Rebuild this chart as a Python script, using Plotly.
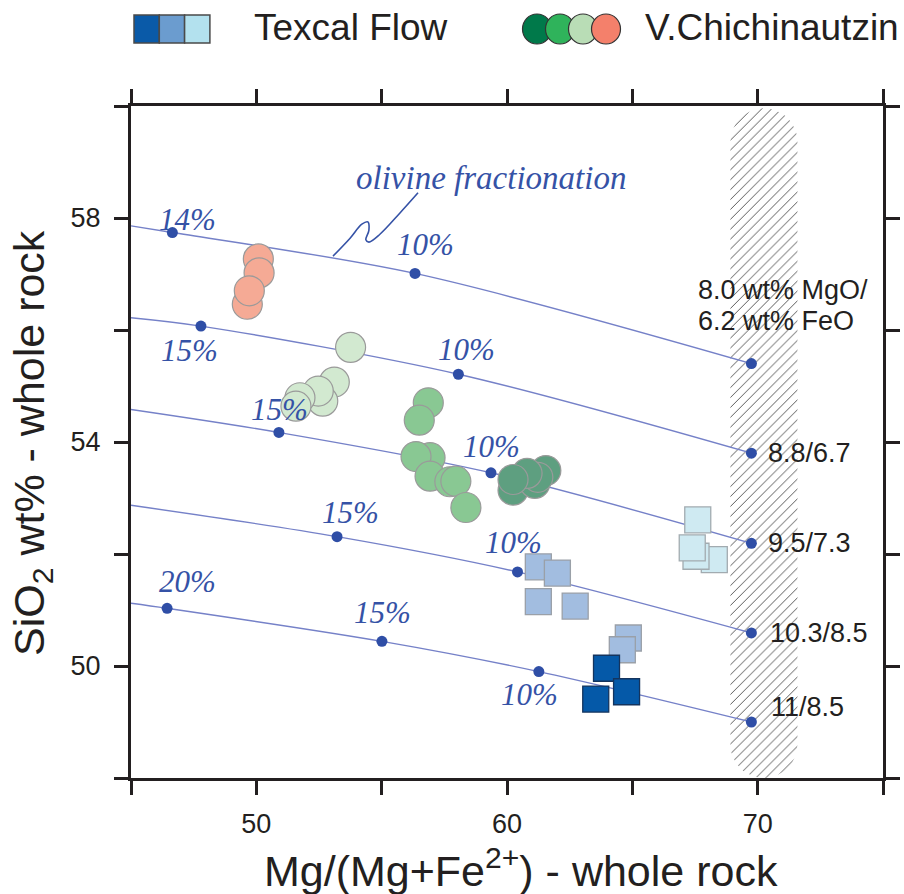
import numpy as np
import plotly.graph_objects as go

# ---------------- data ----------------
# Olivine fractionation paths (Mg# vs SiO2), starting melt compositions at Mg# ~69.75
path_labels = ["8.0 wt% MgO/6.2 wt% FeO", "8.8/6.7", "9.5/7.3", "10.3/8.5", "11/8.5"]
path_x = [
    [45.0, 46.65, 56.33, 69.75],
    [45.0, 47.79, 58.06, 69.75],
    [45.0, 50.90, 59.36, 69.75],
    [45.0, 53.22, 60.42, 69.75],
    [45.0, 46.44, 55.01, 61.27, 69.75],
]
path_y = [
    [57.86, 57.74, 57.01, 55.40],
    [56.22, 56.07, 55.21, 53.80],
    [54.58, 54.17, 53.45, 52.19],
    [52.87, 52.31, 51.68, 50.59],
    [51.12, 51.03, 50.44, 49.90, 49.00],
]
# fractionation steps marked along each path
step_dot_x = [[46.65, 56.33, 69.75], [47.79, 58.06, 69.75], [50.90, 59.36, 69.75],
              [53.22, 60.42, 69.75], [46.44, 55.01, 61.27, 69.75]]
step_dot_y = [[57.74, 57.01, 55.40], [56.07, 55.21, 53.80], [54.17, 53.45, 52.19],
              [52.31, 51.68, 50.59], [51.03, 50.44, 49.90, 49.00]]

pct_text = ["14%", "10%", "15%", "10%", "15%", "10%", "15%", "10%", "20%", "15%", "10%"]
pct_x = [47.27, 56.73, 47.35, 58.40, 50.94, 59.39, 53.74, 60.24, 47.27, 55.05, 60.88]
pct_y = [57.98, 57.53, 55.64, 55.66, 54.58, 53.92, 52.74, 52.21, 51.51, 50.96, 49.49]

# V. Chichinautzin lavas (circles)
salmon_x = [50.08, 50.11, 49.64, 49.72]
salmon_y = [57.27, 57.02, 56.46, 56.70]
pale_green_x = [53.76, 53.11, 52.65, 52.47, 51.74, 51.58]
pale_green_y = [55.69, 55.07, 54.73, 54.91, 54.79, 54.64]
green_x = [56.86, 56.50, 56.93, 56.37, 56.93, 57.72, 57.96, 58.36]
green_y = [54.70, 54.39, 53.72, 53.74, 53.39, 53.29, 53.30, 52.83]
dark_green_x = [60.24, 61.11, 61.55, 61.23, 60.80, 60.24]
dark_green_y = [53.14, 53.26, 53.49, 53.37, 53.44, 53.33]

# Texcal Flow (squares)
cyan_x = [67.61, 68.27, 67.54, 67.39]
cyan_y = [52.61, 51.90, 51.96, 52.11]
mid_blue_x = [61.25, 62.01, 61.25, 62.72, 64.84, 64.60]
mid_blue_y = [51.77, 51.66, 51.15, 51.07, 50.50, 50.29]
dark_blue_x = [63.97, 64.77, 63.54]
dark_blue_y = [49.96, 49.54, 49.41]

# Leader line to the "olivine fractionation" label
leader_x = [53.06, 53.74, 54.21, 54.45, 54.49, 54.37, 54.49, 54.93, 55.73, 56.45]
leader_y = [57.32, 57.64, 57.89, 57.93, 57.78, 57.61, 57.57, 57.71, 58.09, 58.45]

# Primitive-melt Mg# band
band_x0, band_x1 = 68.9, 71.6
band_y0, band_y1 = 48.0, 59.96

x_ticks = [45, 50, 55, 60, 65, 70, 75]
x_ticktext = ["", "50", "", "60", "", "70", ""]
y_ticks = [48, 50, 52, 54, 56, 58, 60]
y_ticktext = ["", "50", "", "54", "", "58", ""]

# ---------------- style ----------------
W, H = 904, 894
ML, MR, MT, MB = 131, 21, 106, 116
PW, PH = W - ML - MR, H - MT - MB
XR, YR = (45, 75), (48, 60)

SANS = "Liberation Sans, Arial, Helvetica, sans-serif"
SERIF = "Liberation Serif, Times New Roman, serif"
INK = "#231f20"
PATH_LINE = "#7581c8"
PATH_DOT = "#2f4ea6"
LABEL_BLUE = "#3552a6"


def px_x(px):
    return (px - ML) / PW


def px_y(py):
    return (H - MB - py) / PH


fig = go.Figure()

# hatched band with rounded ends
rx = 33.5 * (XR[1] - XR[0]) / PW
ry = 33.5 * (YR[1] - YR[0]) / PH
cx = 0.5 * (band_x0 + band_x1)
t_top = np.linspace(np.pi, 0, 40)
t_bot = np.linspace(0, -np.pi, 40)
bx = np.concatenate([cx + rx * np.cos(t_top), cx + rx * np.cos(t_bot)])
by = np.concatenate([band_y1 - ry + ry * np.sin(t_top), band_y0 + ry + ry * np.sin(t_bot)])
bx = np.append(bx, bx[0])
by = np.append(by, by[0])
fig.add_trace(go.Scatter(
    x=bx, y=by, mode="lines", fill="toself", line=dict(width=0),
    fillcolor="rgba(0,0,0,0)",
    fillpattern=dict(shape="/", fgcolor="#3c3c3c", bgcolor="rgba(255,255,255,0)",
                     size=7, solidity=0.12, fillmode="replace"),
    hoverinfo="skip", showlegend=False))

# fractionation paths
for xs, ys in zip(path_x, path_y):
    fig.add_trace(go.Scatter(x=xs, y=ys, mode="lines",
                             line=dict(color=PATH_LINE, width=1.4, shape="spline", smoothing=0.9),
                             hoverinfo="skip", showlegend=False))

# leader line
fig.add_trace(go.Scatter(x=leader_x, y=leader_y, mode="lines",
                         line=dict(color=LABEL_BLUE, width=1.6, shape="spline", smoothing=1.0),
                         hoverinfo="skip", showlegend=False))


def circles(xs, ys, color):
    fig.add_trace(go.Scatter(x=xs, y=ys, mode="markers",
                             marker=dict(symbol="circle", size=30, color=color,
                                         line=dict(color="#9a9a9a", width=1.2)),
                             showlegend=False))


def squares(xs, ys, color, edge):
    fig.add_trace(go.Scatter(x=xs, y=ys, mode="markers",
                             marker=dict(symbol="square", size=26, color=color,
                                         line=dict(color=edge, width=1.3)),
                             showlegend=False))


circles(salmon_x, salmon_y, "#f5aa95")
circles(pale_green_x, pale_green_y, "#d2e9d0")
circles(green_x, green_y, "#89c893")
circles(dark_green_x, dark_green_y, "#5e9f80")
squares(cyan_x, cyan_y, "#cfeaf2", "#a2abb0")
squares(mid_blue_x, mid_blue_y, "#a2bde0", "#9aa0a8")
squares(dark_blue_x, dark_blue_y, "#0559a8", "#14345e")

# fractionation step dots
for xs, ys in zip(step_dot_x, step_dot_y):
    fig.add_trace(go.Scatter(x=xs, y=ys, mode="markers",
                             marker=dict(size=11, color=PATH_DOT),
                             hoverinfo="skip", showlegend=False))

ann = []
for t, x, y in zip(pct_text, pct_x, pct_y):
    ann.append(dict(x=x, y=y, text=t, showarrow=False, xanchor="center", yanchor="middle",
                    font=dict(family=SERIF, size=31, color=LABEL_BLUE, style="italic")))
ann.append(dict(x=59.36, y=58.71, text="olivine fractionation", showarrow=False,
                xanchor="center", yanchor="middle",
                font=dict(family=SERIF, size=33, color=LABEL_BLUE, style="italic")))

# starting composition labels
start_lab = [("8.0 wt% MgO/", 67.54, 56.71), ("6.2 wt% FeO", 67.54, 56.16),
             ("8.8/6.7", 70.35, 53.80), ("9.5/7.3", 70.35, 52.19),
             ("10.3/8.5", 70.43, 50.59), ("11/8.5", 70.47, 49.26)]
for t, x, y in start_lab:
    ann.append(dict(x=x, y=y, text=t, showarrow=False, xanchor="left", yanchor="middle",
                    font=dict(family=SANS, size=27, color=INK)))

# axis titles
ann.append(dict(xref="paper", yref="paper", x=px_x(521), y=px_y(868),
                text="Mg/(Mg+Fe<sup>2+</sup>) - whole rock", showarrow=False,
                xanchor="center", yanchor="middle", font=dict(family=SANS, size=43, color=INK)))
ann.append(dict(xref="paper", yref="paper", x=px_x(32), y=px_y(443), textangle=-90,
                text="SiO<sub>2</sub> wt% - whole rock", showarrow=False,
                xanchor="center", yanchor="middle", font=dict(family=SANS, size=43, color=INK)))

# legend texts
ann.append(dict(xref="paper", yref="paper", x=px_x(252), y=px_y(28), text="Texcal Flow",
                showarrow=False, xanchor="left", yanchor="middle",
                font=dict(family=SANS, size=37, color=INK)))
ann.append(dict(xref="paper", yref="paper", x=px_x(643), y=px_y(28), text="V.Chichinautzin",
                showarrow=False, xanchor="left", yanchor="middle",
                font=dict(family=SANS, size=37, color=INK)))

# legend swatches
shapes = []
sq_cols = ["#0a5aa8", "#6b9ccf", "#b3e1ee"]
for i, c in enumerate(sq_cols):
    x0 = 134 + i * 25.3
    shapes.append(dict(type="rect", xref="paper", yref="paper",
                       x0=px_x(x0), x1=px_x(x0 + 25.3), y0=px_y(43), y1=px_y(15),
                       fillcolor=c, line=dict(color="#4a4a4a", width=1.5)))
ci_cols = ["#00794a", "#2fb35b", "#b9ddb6", "#f4806b"]
for i, c in enumerate(ci_cols):
    cxp = 537 + i * 23
    shapes.append(dict(type="circle", xref="paper", yref="paper",
                       x0=px_x(cxp - 14.5), x1=px_x(cxp + 14.5), y0=px_y(44), y1=px_y(14),
                       fillcolor=c, line=dict(color="#333333", width=1.2)))

axis_common = dict(showgrid=False, zeroline=False, showline=True, linewidth=3, linecolor=INK,
                   mirror="allticks", ticks="outside", ticklen=14, tickwidth=3, tickcolor=INK,
                   tickfont=dict(family=SANS, size=27, color=INK), tickmode="array",
                   automargin=False)

fig.update_layout(
    template="none",
    width=W, height=H, margin=dict(l=ML, r=MR, t=MT, b=MB, autoexpand=False),
    paper_bgcolor="white", plot_bgcolor="white",
    xaxis=dict(range=list(XR), tickvals=x_ticks, ticktext=x_ticktext,
               ticklabelstandoff=6, **axis_common),
    yaxis=dict(range=list(YR), tickvals=y_ticks, ticktext=y_ticktext,
               ticklabelstandoff=8, **axis_common),
    annotations=ann, shapes=shapes, showlegend=False,
)

fig.write_html("out.html")
